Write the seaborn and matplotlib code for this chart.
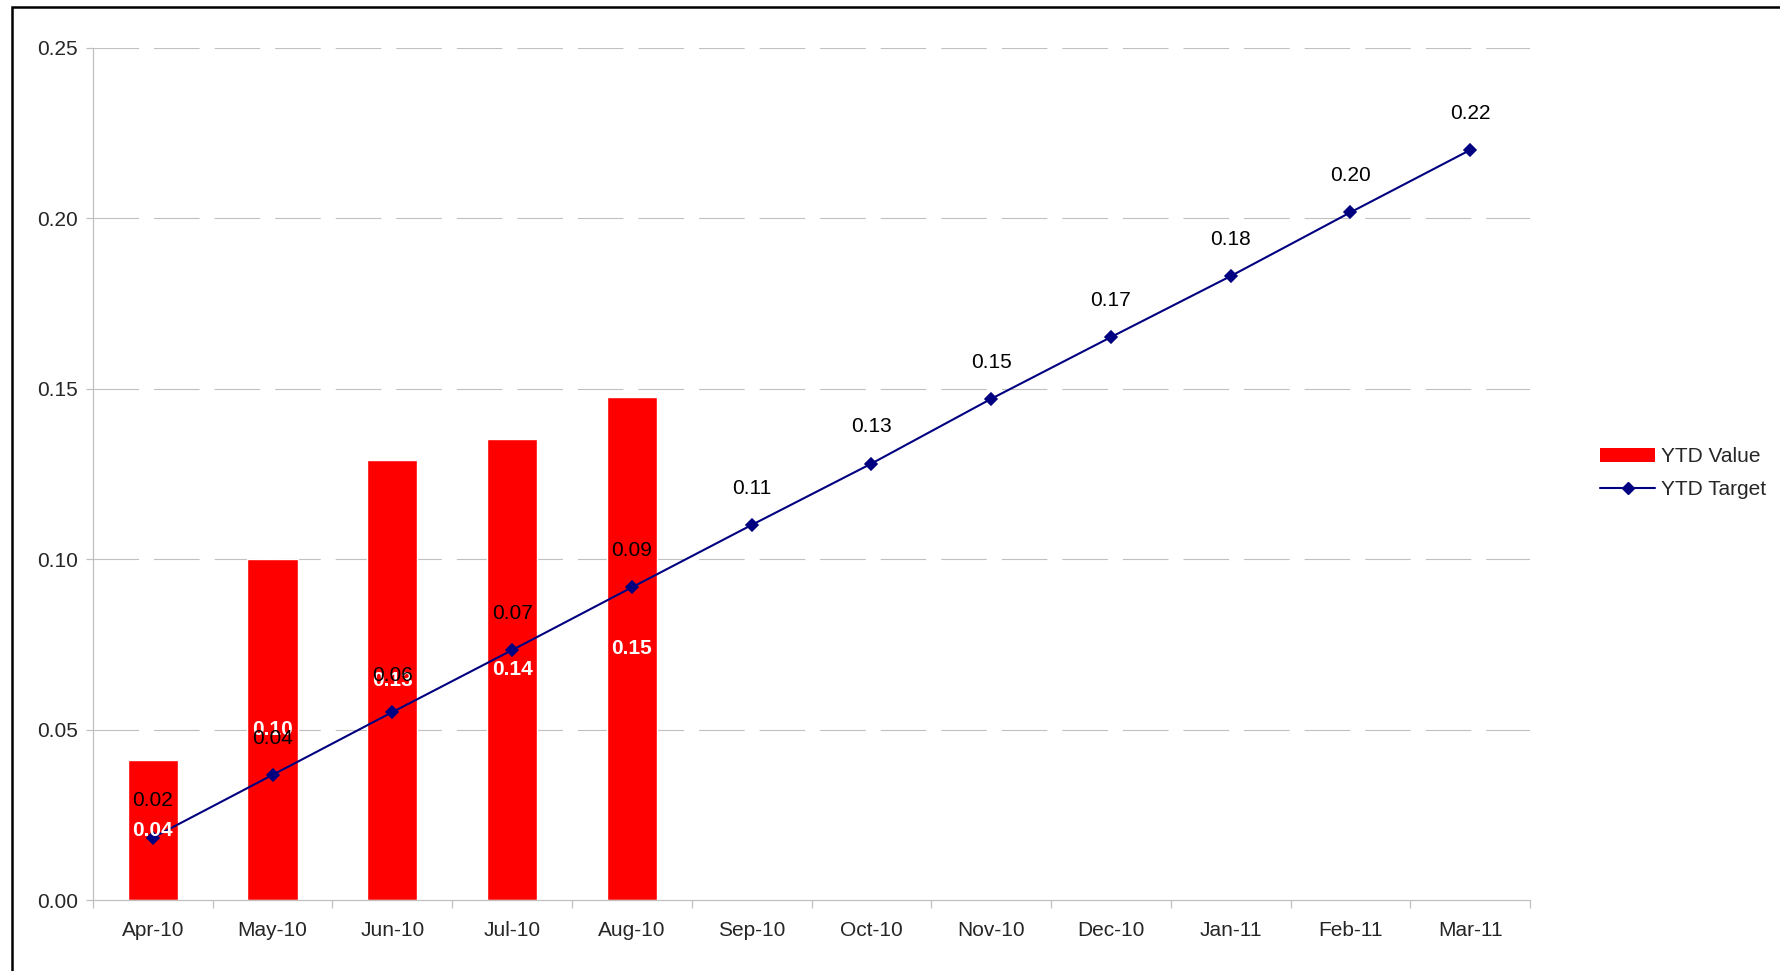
import numpy as np
import pandas as pd
import seaborn as sns
import matplotlib.pyplot as plt
from matplotlib.patches import Patch, Rectangle
from matplotlib.lines import Line2D

# valores
meses = ['Apr-10', 'May-10', 'Jun-10', 'Jul-10', 'Aug-10', 'Sep-10',
         'Oct-10', 'Nov-10', 'Dec-10', 'Jan-11', 'Feb-11', 'Mar-11']
ytd_value = [0.041, 0.100, 0.129, 0.1352, 0.1475]
ytd_target = [0.0183, 0.0367, 0.0551, 0.0733, 0.0917, 0.110,
              0.128, 0.147, 0.1651, 0.183, 0.2017, 0.220]
y_ticks = [0.00, 0.05, 0.10, 0.15, 0.20, 0.25]

sns.set_style("white")
plt.rcParams['font.family'] = ['Liberation Sans', 'DejaVu Sans']
fs = 15

fig = plt.figure(figsize=(17.8, 9.71), dpi=100)
ax = fig.add_axes([0.0522, 0.0731, 0.8074, 0.8778])

df_bar = pd.DataFrame({'mes': meses[:len(ytd_value)], 'valor': ytd_value})
df_lin = pd.DataFrame({'mes': meses, 'alvo': ytd_target})

sns.barplot(data=df_bar, x='mes', y='valor', order=meses, color='#ff0000',
            saturation=1, width=0.42, ax=ax, zorder=2)
sns.pointplot(data=df_lin, x='mes', y='alvo', order=meses, color='#000080',
              markers='D', markersize=6.5, linewidth=1.5, errorbar=None,
              ax=ax, zorder=3)

# rótulos das barras (brancos, no centro)
for i, v in enumerate(ytd_value):
    ax.text(i, v / 2, f'{v:.2f}', color='white', fontweight='bold',
            fontsize=fs, ha='center', va='center', zorder=5)

# rótulos da linha (acima dos marcadores)
for i, v in enumerate(ytd_target):
    ax.annotate(f'{v:.2f}', (i, v), xytext=(0, 26.5), textcoords='offset points',
                ha='center', va='center', fontsize=fs, color='black', zorder=6)

ax.set_ylim(0, 0.25)
ax.set_xlim(-0.5, len(meses) - 0.5)
ax.set_yticks(y_ticks)
ax.set_yticklabels([f'{t:.2f}' for t in y_ticks])
ax.set_xlabel('')
ax.set_ylabel('')

# grade tracejada
for t in y_ticks[1:]:
    ax.axhline(t, color='#c0c0c0', linewidth=0.8, linestyle=(0, (41, 13.5)), zorder=0)

for s in ['top', 'right']:
    ax.spines[s].set_visible(False)
for s in ['left', 'bottom']:
    ax.spines[s].set_color('#c0c0c0')
    ax.spines[s].set_linewidth(0.9)

ax.tick_params(axis='x', which='major', length=0, pad=15, labelsize=fs)
ax.set_xticks(np.arange(-0.5, len(meses)), minor=True)
ax.tick_params(axis='x', which='minor', length=6, width=0.9, color='#c0c0c0', direction='out')
ax.tick_params(axis='y', length=5, width=0.9, color='#c0c0c0', direction='out', pad=6, labelsize=fs)
ax.tick_params(bottom=True, left=True, which='both')

# legenda
handles = [Patch(facecolor='#ff0000', edgecolor='none', label='YTD Value'),
           Line2D([0], [0], color='#000080', marker='D', markersize=6.5,
                  linewidth=1.5, label='YTD Target')]
fig.legend(handles=handles, loc='center left', bbox_to_anchor=(0.899, 0.513),
           frameon=False, fontsize=fs, handlelength=2.65, handleheight=0.65,
           handletextpad=0.25, borderpad=0, labelspacing=0.65, borderaxespad=0)

# moldura externa
fig.patches.append(Rectangle((12 / 1780, -0.1), 1.2, 1.1 - 7 / 971,
                             transform=fig.transFigure, fill=False,
                             edgecolor='black', linewidth=1.8))

fig.savefig('out.png', dpi=100)
